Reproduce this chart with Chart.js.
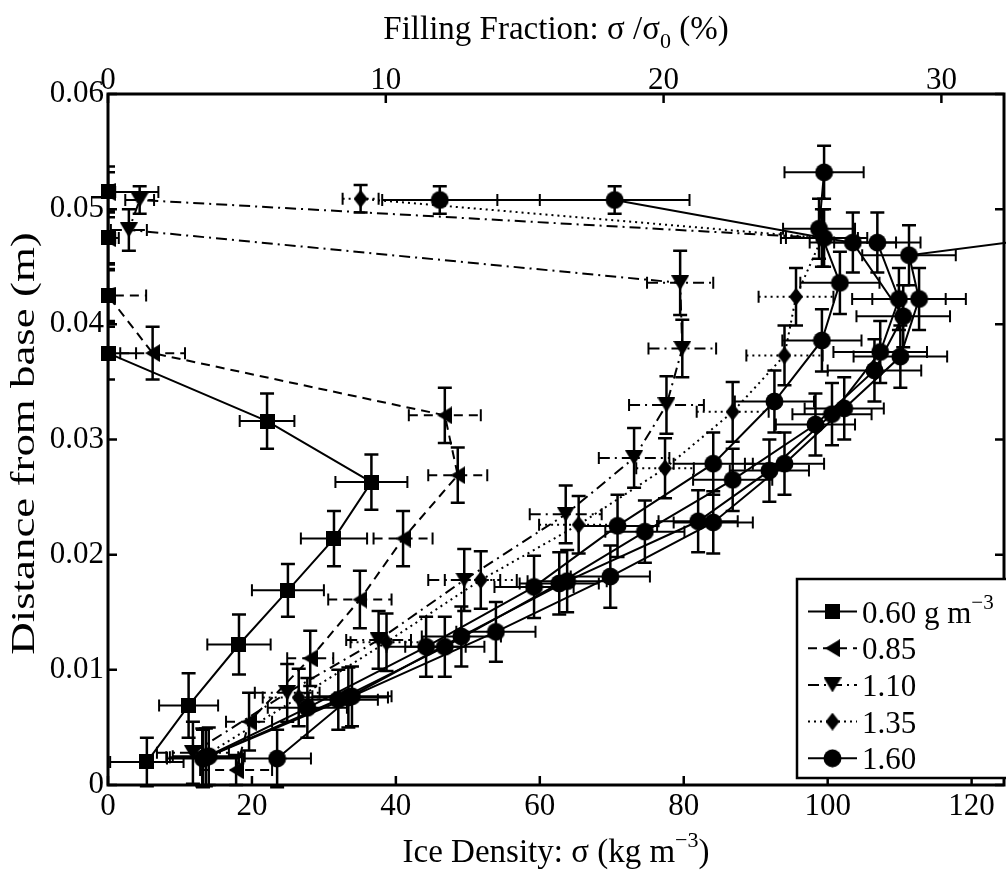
<!DOCTYPE html>
<html><head><meta charset="utf-8">
<script src="https://cdn.jsdelivr.net/npm/chart.js@4.4.1/dist/chart.umd.min.js"></script>
<style>
html,body{margin:0;padding:0;background:#fff;overflow:hidden;width:1006px;height:871px}
#wrap{position:absolute;left:0;top:0;width:1014px;height:871px}
canvas{display:block}
</style></head><body><div id="wrap"><canvas id="c" width="1014" height="871"></canvas></div>
<script>
// ---------- data ----------
const xTicks   = [0, 20, 40, 60, 80, 100, 120];
const topTicks = [0, 10, 20, 30];
const yTicks   = [0, 0.01, 0.02, 0.03, 0.04, 0.05, 0.06];
const sigma0   = 386;           // kg m^-3, reference density for filling fraction
const xMax     = 124.5;

const legendLabels = ['0.60', '0.85', '1.10', '1.35', '1.60'];

// 0.60 g m^-3 (squares)
const s060x  = [5.4, 11.2, 18.2, 25.0, 31.4, 36.6, 22.1, 0.0, 0.0, 0.0, 0.0];
const s060y  = [0.0020, 0.0069, 0.0122, 0.0169, 0.0214, 0.0263, 0.0316, 0.0375, 0.0425, 0.0475, 0.0515];
const s060xe = [5.1, 4.1, 4.4, 5.0, 4.6, 5.0, 3.8, 3.9, 0.8, 1.5, 7.0];
const s060ye = [0.0021, 0.0028, 0.0026, 0.0023, 0.0024, 0.0024, 0.0024, 0.0023, 0.0023, 0.0023, 0.0017];

// 0.85 (left triangles)
const s085x  = [17.8, 19.6, 28.1, 35.0, 41.0, 48.6, 46.8, 6.2, 0.0, 0.0, 0.0];
const s085y  = [0.0013, 0.0055, 0.0110, 0.0161, 0.0214, 0.0269, 0.0321, 0.0375, 0.0425, 0.0475, 0.0515];
const s085xe = [5.0, 3.2, 3.2, 4.4, 4.1, 4.1, 5.0, 4.5, 5.3, 1.0, 1.0];
const s085ye = [0.0013, 0.0025, 0.0024, 0.0025, 0.0024, 0.0024, 0.0024, 0.0023, 0.0022, 0.0022, 0.0022];

// 1.10 (down triangles)
const s110x  = [11.8, 24.9, 37.6, 49.5, 63.6, 73.1, 77.6, 79.8, 79.5, 2.9, 4.4, 99.2];
const s110y  = [0.0028, 0.0080, 0.0126, 0.0178, 0.0235, 0.0284, 0.0330, 0.0379, 0.0436, 0.0482, 0.0508, 0.0475];
const s110xe = [5.0, 4.5, 4.5, 5.0, 5.0, 4.9, 5.2, 4.7, 4.6, 2.5, 2.0, 0];
const s110ye = [0.0027, 0.0025, 0.0025, 0.0027, 0.0025, 0.0026, 0.0025, 0.0025, 0.0028, 0.0018, 0.0012, 0];
const s110hidden = [11];

// 1.35 (diamonds)
const s135x  = [13.1, 26.5, 38.7, 51.8, 65.4, 77.4, 86.8, 94.0, 95.6, 99.2, 35.1];
const s135y  = [0.0024, 0.0076, 0.0124, 0.0178, 0.0226, 0.0275, 0.0324, 0.0373, 0.0424, 0.0475, 0.0509];
const s135xe = [5.0, 5.0, 5.0, 5.0, 5.5, 4.0, 5.0, 5.3, 5.2, 5.0, 2.5];
const s135ye = [0.0025, 0.0025, 0.0025, 0.0025, 0.0025, 0.0026, 0.0026, 0.0026, 0.0025, 0.0025, 0.0012];

// 1.60 (circles) and further circle profiles
const s160x  = [13.2, 27.7, 44.2, 59.2, 70.8, 84.1, 92.6, 99.2, 101.7, 98.8, 99.5];
const s160y  = [0.0023, 0.0067, 0.0120, 0.0172, 0.0225, 0.0279, 0.0333, 0.0386, 0.0436, 0.0483, 0.0532];
const s160xe = [5.0, 5.5, 5.5, 5.5, 5.5, 5.5, 5.5, 5.5, 5.5, 5.0, 5.5];
const s160ye = [0.0025, 0.0026, 0.0026, 0.0027, 0.0027, 0.0027, 0.0027, 0.0027, 0.0027, 0.0026, 0.0023];

const cBx  = [13.6, 32.0, 46.8, 62.7, 74.6, 86.8, 98.3, 106.5, 110.5, 103.5, 99.5, 70.4, 46.1];
const cBy  = [0.0024, 0.0074, 0.0120, 0.0175, 0.0220, 0.0265, 0.0313, 0.0360, 0.0407, 0.0471, 0.0475, 0.0508, 0.0508];
const cBxe = [5.0, 5.5, 5.5, 5.5, 5.5, 5.5, 5.5, 6.5, 6.5, 6.0, 6.0, 10.4, 8.0];
const cBye = [0.0025, 0.0026, 0.0026, 0.0027, 0.0027, 0.0027, 0.0027, 0.0027, 0.0027, 0.0026, 0.0025, 0.0012, 0.0012];

const cCx  = [14.0, 33.4, 49.1, 63.8, 82.0, 91.9, 100.6, 107.3, 109.9, 106.9];
const cCy  = [0.0025, 0.0076, 0.0129, 0.0177, 0.0229, 0.0273, 0.0322, 0.0376, 0.0422, 0.0471];
const cCxe = [5.0, 5.5, 5.5, 5.5, 5.5, 5.5, 5.5, 6.5, 6.5, 6.0];
const cCye = [0.0025, 0.0026, 0.0026, 0.0027, 0.0027, 0.0027, 0.0027, 0.0027, 0.0027, 0.0026];

const cDx  = [23.5, 33.9, 53.9, 69.8, 84.1, 94.0, 102.3, 110.1, 112.7, 111.3, 140.0];
const cDy  = [0.0023, 0.0077, 0.0133, 0.0181, 0.0228, 0.0279, 0.0327, 0.0372, 0.0422, 0.0460, 0.0483];
const cDxe = [4.7, 5.5, 5.5, 5.5, 5.5, 5.5, 5.5, 6.5, 6.5, 6.5, 0];
const cDye = [0.0025, 0.0026, 0.0026, 0.0027, 0.0027, 0.0027, 0.0027, 0.0027, 0.0027, 0.0026, 0];

// ---------- marker images ----------
function mk(w, h, draw){ const c=document.createElement('canvas'); c.width=w; c.height=h; const g=c.getContext('2d'); g.fillStyle='#000'; draw(g,w,h); return c; }
const mSquare = mk(15,15,(g,w,h)=>g.fillRect(0,0,w,h));
const mCircle = mk(19,19,(g,w,h)=>{g.beginPath();g.arc(w/2,h/2,9,0,Math.PI*2);g.fill();});
const mDown   = mk(18,15,(g,w,h)=>{g.beginPath();g.moveTo(0,0);g.lineTo(w,0);g.lineTo(w/2,h);g.closePath();g.fill();});
const mLeft   = mk(15,18,(g,w,h)=>{g.beginPath();g.moveTo(w,0);g.lineTo(w,h);g.lineTo(0,h/2);g.closePath();g.fill();});
const mDiam   = mk(14,18,(g,w,h)=>{g.beginPath();g.moveTo(w/2,0);g.lineTo(w,h/2);g.lineTo(w/2,h);g.lineTo(0,h/2);g.closePath();g.fill();});

const DASH = { solid: [], dashed: [9,6], dashdot: [11,5,2,5], dotted: [2,4] };

function pts(xs, ys){ return xs.map((v,i)=>({x:v, y:ys[i]})); }
function mkDs(label, xs, ys, xe, ye, marker, dash, inLegend, hidden){
  hidden = hidden || [];
  return {
    label, data: pts(xs, ys), xErr: xe, yErr: ye, dashKey: dash, inLegend, marker,
    borderColor:'#000', backgroundColor:'#000', borderWidth:2, borderDash: DASH[dash],
    pointStyle: (c)=> hidden.includes(c.dataIndex) ? false : marker,
    pointRadius: 8, pointHoverRadius: 8, showLine:true, tension:0, clip:false, fill:false
  };
}

const datasets = [
  mkDs(legendLabels[0], s060x, s060y, s060xe, s060ye, mSquare, 'solid', true),
  mkDs(legendLabels[1], s085x, s085y, s085xe, s085ye, mLeft, 'dashed', true),
  mkDs(legendLabels[2], s110x, s110y, s110xe, s110ye, mDown, 'dashdot', true, s110hidden),
  mkDs(legendLabels[3], s135x, s135y, s135xe, s135ye, mDiam, 'dotted', true),
  mkDs(legendLabels[4], s160x, s160y, s160xe, s160ye, mCircle, 'solid', true),
  mkDs('', cBx, cBy, cBxe, cBye, mCircle, 'solid', false),
  mkDs('', cCx, cCy, cCxe, cCye, mCircle, 'solid', false),
  mkDs('', cDx, cDy, cDxe, cDye, mCircle, 'solid', false)
];

const FONT = '"Liberation Serif", "Times New Roman", serif';

// ---------- plugins ----------
const errorBars = {
  id: 'errorBars',
  beforeDatasetsDraw(chart){
    const ctx = chart.ctx, xs = chart.scales.x, ys = chart.scales.y, a = chart.chartArea;
    ctx.save();
    ctx.beginPath(); ctx.rect(a.left, a.top - 20, a.right - a.left + 20, a.bottom - a.top + 40); ctx.clip();
    ctx.strokeStyle = '#000';
    chart.data.datasets.forEach(ds=>{
      ds.data.forEach((p,i)=>{
        const ex = ds.xErr[i] || 0, ey = ds.yErr[i] || 0;
        const px = xs.getPixelForValue(p.x), py = ys.getPixelForValue(p.y);
        if (ey > 0){
          const t = ys.getPixelForValue(p.y + ey), b = ys.getPixelForValue(p.y - ey);
          ctx.setLineDash([]); ctx.lineWidth = 2.5;
          ctx.beginPath();
          ctx.moveTo(px, t); ctx.lineTo(px, b);
          ctx.moveTo(px-7, t); ctx.lineTo(px+7, t);
          ctx.moveTo(px-7, b); ctx.lineTo(px+7, b);
          ctx.stroke();
        }
        if (ex > 0){
          const l = xs.getPixelForValue(p.x - ex), r = xs.getPixelForValue(p.x + ex);
          ctx.lineWidth = 2;
          ctx.setLineDash(DASH[ds.dashKey]);
          ctx.beginPath(); ctx.moveTo(l, py); ctx.lineTo(r, py); ctx.stroke();
          ctx.setLineDash([]);
          ctx.beginPath();
          ctx.moveTo(l, py-6); ctx.lineTo(l, py+6);
          ctx.moveTo(r, py-6); ctx.lineTo(r, py+6);
          ctx.stroke();
        }
      });
    });
    ctx.restore();
  }
};

function richWidth(ctx, parts, size){
  let w = 0;
  parts.forEach(p=>{ ctx.font = (p[1]==='n'?size:Math.round(size*0.68))+'px '+FONT; w += ctx.measureText(p[0]).width; });
  return w;
}
function drawRich(ctx, parts, x, base, size){
  parts.forEach(p=>{
    ctx.font = (p[1]==='n'?size:Math.round(size*0.68))+'px '+FONT;
    let y = base;
    if (p[1]==='sup') y -= size*0.45;
    if (p[1]==='sub') y += size*0.28;
    ctx.fillText(p[0], x, y);
    x += ctx.measureText(p[0]).width;
  });
}

const frame = {
  id: 'frame',
  afterDraw(chart){
    const ctx = chart.ctx, a = chart.chartArea, xs = chart.scales.x, x2 = chart.scales.x2, ys = chart.scales.y;
    ctx.save();
    ctx.strokeStyle = '#000'; ctx.fillStyle = '#000'; ctx.setLineDash([]);
    ctx.lineWidth = 3;
    ctx.strokeRect(a.left, a.top, a.right - a.left, a.bottom - a.top);
    ctx.lineWidth = 2.5;
    const L = 9;
    ctx.beginPath();
    xTicks.forEach(v=>{ const p = xs.getPixelForValue(v); ctx.moveTo(p, a.bottom); ctx.lineTo(p, a.bottom - L); });
    topTicks.forEach(v=>{ const p = x2.getPixelForValue(v); ctx.moveTo(p, a.top); ctx.lineTo(p, a.top + L); });
    yTicks.forEach(v=>{ const p = ys.getPixelForValue(v); ctx.moveTo(a.left, p); ctx.lineTo(a.left + L, p); ctx.moveTo(a.right, p); ctx.lineTo(a.right - L, p); });
    ctx.stroke();

    // axis titles
    ctx.textAlign = 'left'; ctx.textBaseline = 'alphabetic';
    const cx = (a.left + a.right) / 2;
    const topT = [['Filling Fraction: σ /σ','n'],['0','sub'],[' (%)','n']];
    drawRich(ctx, topT, cx - richWidth(ctx, topT, 33)/2, 39, 33);
    const botT = [['Ice Density: σ (kg m','n'],['−3','sup'],[')','n']];
    drawRich(ctx, botT, cx - richWidth(ctx, botT, 33)/2, 862, 33);
    ctx.save();
    ctx.translate(34, (a.top + a.bottom)/2 + 4);
    ctx.rotate(-Math.PI/2);
    ctx.scale(1.36, 1);
    ctx.font = '33px ' + FONT; ctx.textAlign = 'center';
    ctx.fillText('Distance from base (m)', 0, 0);
    ctx.restore();

    // legend
    const bx = 797, by = 579, bw = 230, bh = 199;
    ctx.fillStyle = '#fff'; ctx.fillRect(bx, by, bw, bh);
    ctx.lineWidth = 2.5; ctx.strokeRect(bx, by, bw, bh);
    ctx.fillStyle = '#000';
    const rows = chart.data.datasets.filter(d=>d.inLegend);
    rows.forEach((d,i)=>{
      const y = 611.5 + i*36.7;
      ctx.lineWidth = 2; ctx.setLineDash(DASH[d.dashKey]);
      ctx.beginPath(); ctx.moveTo(808, y); ctx.lineTo(857, y); ctx.stroke();
      ctx.setLineDash([]);
      ctx.drawImage(d.marker, 832.5 - d.marker.width/2, y - d.marker.height/2);
      ctx.textAlign = 'left';
      const parts = i === 0 ? [[d.label + ' g m','n'],['−3','sup']] : [[d.label,'n']];
      drawRich(ctx, parts, 862, y + 11, 31);
    });
    ctx.restore();
  }
};

// ---------- chart ----------
const tickFont = { family: FONT, size: 31 };
new Chart(document.getElementById('c'), {
  type: 'scatter',
  data: { datasets },
  options: {
    responsive: false, animation: false, devicePixelRatio: 1,
    layout: { padding: { left: 0, right: 5, top: 0, bottom: 0 } },
    plugins: { legend: { display: false }, tooltip: { enabled: false } },
    events: [],
    scales: {
      x: {
        type: 'linear', position: 'bottom', min: 0, max: xMax,
        afterBuildTicks: s => { s.ticks = xTicks.map(v=>({value:v})); },
        afterFit: s => { s.height = 86; },
        grid: { display: false, drawTicks: false }, border: { display: false },
        ticks: { font: tickFont, color: '#000', padding: 3, maxRotation: 0, autoSkip: false, callback: v => String(v) }
      },
      x2: {
        type: 'linear', position: 'top', min: 0, max: xMax / sigma0 * 100,
        afterBuildTicks: s => { s.ticks = topTicks.map(v=>({value:v})); },
        afterFit: s => { s.height = 94; },
        grid: { display: false, drawTicks: false }, border: { display: false },
        ticks: { font: tickFont, color: '#000', padding: -5, maxRotation: 0, autoSkip: false, callback: v => String(v) }
      },
      y: {
        type: 'linear', position: 'left', min: 0, max: 0.06,
        afterBuildTicks: s => { s.ticks = yTicks.map(v=>({value:v})); },
        afterFit: s => { s.width = 108; },
        grid: { display: false, drawTicks: false }, border: { display: false },
        ticks: { font: tickFont, color: '#000', padding: 4, autoSkip: false, callback: v => v === 0 ? '0' : v.toFixed(2) }
      }
    }
  },
  plugins: [errorBars, frame]
});
</script>
</body></html>
